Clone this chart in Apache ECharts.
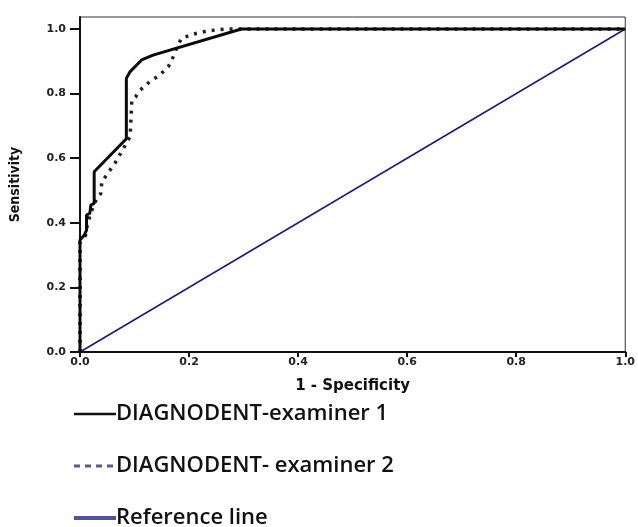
<!DOCTYPE html>
<html>
<head>
<meta charset="utf-8">
<script src="https://cdn.jsdelivr.net/npm/echarts@6/dist/echarts.min.js"></script>
<style>html,body{margin:0;padding:0;background:#fff}#c{width:638px;height:527px}</style>
</head>
<body>
<div id="c"></div>
<script>
const seriesNames = ['DIAGNODENT-examiner 1', 'DIAGNODENT- examiner 2', 'Reference line'];
const exam1X = [0, 0, 0.008, 0.012, 0.012, 0.018, 0.020, 0.026, 0.026, 0.085, 0.085, 0.092, 0.113, 0.134, 0.296, 1.0];
const exam1Y = [0, 0.347, 0.362, 0.377, 0.424, 0.429, 0.455, 0.460, 0.558, 0.660, 0.847, 0.868, 0.904, 0.919, 1.0, 1.0];
const exam2X = [0, 0, 0.010, 0.014, 0.020, 0.024, 0.031, 0.038, 0.040, 0.064, 0.092, 0.095, 0.102, 0.110, 0.128, 0.146, 0.162, 0.171, 0.177, 0.186, 0.208, 0.234, 0.267, 1.0];
const exam2Y = [0, 0.340, 0.360, 0.400, 0.430, 0.450, 0.476, 0.490, 0.527, 0.584, 0.667, 0.780, 0.790, 0.810, 0.837, 0.857, 0.883, 0.914, 0.940, 0.971, 0.984, 0.994, 1.0, 1.0];
const refX = [0, 1];
const refY = [0, 1];
const xTicks = [0, 0.2, 0.4, 0.6, 0.8, 1.0];
const yTicks = [0, 0.2, 0.4, 0.6, 0.8, 1.0];

const pairs = (xs, ys) => xs.map((x, i) => [x, ys[i]]);
const chart = echarts.init(document.getElementById('c'));
const labelFont = { fontFamily: 'DejaVu Sans', fontWeight: 'bold', fontSize: 11, color: '#222' };
chart.setOption({
  animation: false,
  backgroundColor: '#fff',
  grid: { left: 80, right: 12, top: 17, bottom: 175, show: true, borderColor: '#333', borderWidth: 1 },
  xAxis: {
    type: 'value', min: 0, max: 1, interval: 0.2,
    name: '1 - Specificity', nameLocation: 'middle', nameGap: 27,
    nameTextStyle: { fontFamily: 'DejaVu Sans', fontWeight: 'bold', fontSize: 15, color: '#111' },
    axisLine: { lineStyle: { color: '#111', width: 2 } },
    axisTick: { show: true, length: 5, lineStyle: { color: '#111', width: 2 } },
    axisLabel: Object.assign({ margin: 5, formatter: v => v.toFixed(1) }, labelFont),
    splitLine: { show: false }
  },
  yAxis: {
    type: 'value', min: 0, max: 1.037,
    name: 'Sensitivity', nameLocation: 'middle', nameGap: 58, nameRotate: 90,
    nameTextStyle: { fontFamily: 'DejaVu Sans Condensed', fontWeight: 'bold', fontSize: 14, color: '#111' },
    axisLine: { lineStyle: { color: '#111', width: 2 } },
    axisTick: { show: true, length: 10, customValues: yTicks, lineStyle: { color: '#111', width: 2 } },
    axisLabel: Object.assign({ margin: 14, customValues: yTicks, formatter: v => v.toFixed(1) }, labelFont),
    splitLine: { show: false }
  },
  legend: {
    orient: 'vertical', left: 72, top: 403, height: 200, padding: 0, itemGap: 30, itemWidth: 42, itemHeight: 18,
    textStyle: { fontFamily: 'Open Sans', fontWeight: 600, fontSize: 22, lineHeight: 22, color: '#111', padding: [0, 0, 0, -5] },
    data: [
      { name: seriesNames[0], itemStyle: { opacity: 0 }, lineStyle: { color: '#111', width: 2.5, type: 'solid' } },
      { name: seriesNames[1], itemStyle: { opacity: 0 }, lineStyle: { color: '#5a5a8c', width: 3, type: [6, 5] } },
      { name: seriesNames[2], itemStyle: { opacity: 0 }, lineStyle: { color: '#5050a0', width: 4, type: 'solid' } }
    ]
  },
  series: [
    { name: seriesNames[2], type: 'line', data: pairs(refX, refY), symbol: 'none', z: 1,
      itemStyle: { color: '#1c1c84' }, lineStyle: { color: '#1c1c84', width: 1.6 } },
    { name: seriesNames[1], type: 'line', data: pairs(exam2X, exam2Y), symbol: 'none', z: 2,
      itemStyle: { color: '#222' }, lineStyle: { color: '#222', width: 3.5, type: [3, 6] } },
    { name: seriesNames[0], type: 'line', data: pairs(exam1X, exam1Y), symbol: 'none', z: 3,
      itemStyle: { color: '#0a0a0a' }, lineStyle: { color: '#0a0a0a', width: 3 } }
  ]
});
</script>
</body>
</html>
